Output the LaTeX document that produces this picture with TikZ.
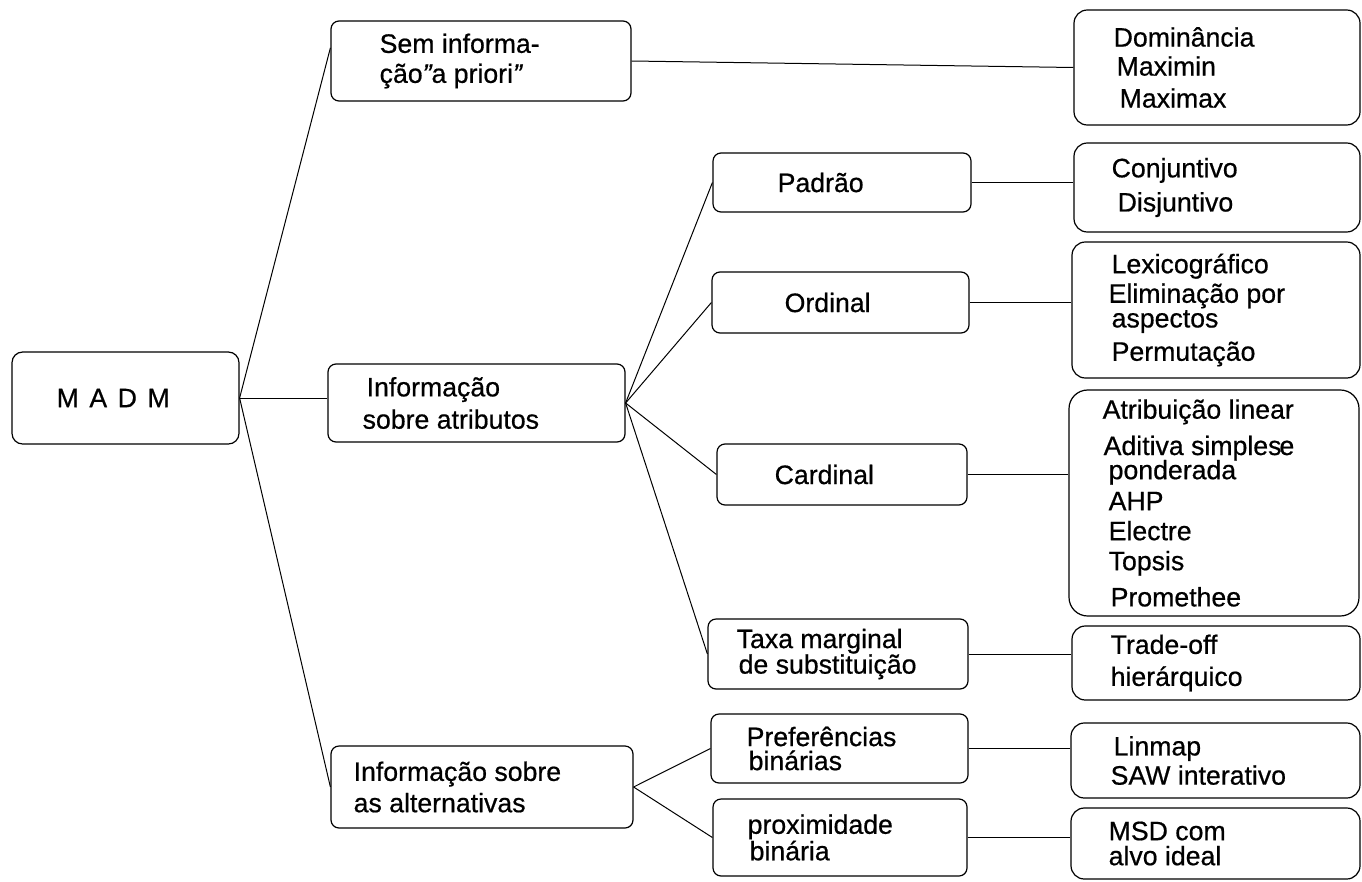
\documentclass[tikz,border=0pt]{standalone}
\usepackage{fontspec}
\setmainfont{Liberation Sans}[FakeBold=0.6]
\newcommand\indt[1]{\hspace*{#1pt}}
\tikzset{
  box/.style={draw, line width=0.9pt, rounded corners=6pt, inner sep=0pt},
  rbox/.style={box, rounded corners=10pt},
  sz/.style 2 args={minimum width=#1*0.75pt, minimum height=#2*0.75pt},
  txt/.style={anchor=west, inner sep=0pt, align=left, font=\fontsize{20}{18}\selectfont},
  link/.style={line width=0.75pt}
}
\begin{document}
\begin{tikzpicture}[x=0.75pt,y=-0.75pt]
\useasboundingbox (0,0) rectangle (1362,881);

% root
\node[box, rounded corners=8pt, sz={227}{92}] (madm) at (125.5,398) {};
% first level
\node[box, sz={300}{80}] (sem)  at (481,61) {};
\node[box, sz={297}{78}] (info) at (476.5,403) {};
\node[box, sz={302}{82}] (alt)  at (482,787) {};
% second level
\node[box, sz={258}{59}] (pad)  at (842,182.5) {};
\node[box, sz={257}{61}] (ord)  at (840.5,302.5) {};
\node[box, sz={250}{61}] (card) at (842,474.5) {};
\node[box, sz={260}{70}] (taxa) at (838,654) {};
\node[box, sz={257}{69}] (pref) at (839.5,748.5) {};
\node[box, sz={254}{77}] (prox) at (840,837.5) {};
% methods
\node[rbox, sz={286}{115}] (dom)   at (1217,67.5) {};
\node[rbox, sz={286}{89}]  (conj)  at (1217,187.5) {};
\node[rbox, sz={288}{136}] (lex)   at (1216,310) {};
\node[rbox, rounded corners=14pt, sz={290}{226}] (atr) at (1214,503) {};
\node[rbox, sz={288}{74}]  (trade) at (1216,663) {};
\node[rbox, sz={289}{75}]  (lin)   at (1215.5,760.5) {};
\node[rbox, sz={289}{71}]  (msd)   at (1215.5,843.5) {};

% labels
\node[txt] (t-madm) at ([xshift=33.75pt]madm.west) {\spaceskip=7.9pt M A D M};
\node[txt] (t-sem) at ([xshift=36.75pt]sem.west) {Sem informa-\\[4.5pt]ção{\itshape"}a priori{\itshape"}};
\node[txt] (t-info) at ([xshift=26.25pt]info.west) {\indt{3}Informação\\[4.5pt]sobre atributos};
\node[txt] (t-alt) at ([xshift=17.25pt]alt.west) {Informação sobre\\[3.75pt]as alternativas};
\node[txt] (t-pad) at ([xshift=48.75pt]pad.west) {Padrão};
\node[txt] (t-ord) at ([xshift=54.75pt]ord.west) {Ordinal};
\node[txt] (t-card) at ([xshift=43.5pt]card.west) {Cardinal};
\node[txt] (t-taxa) at ([xshift=21.75pt]taxa.west) {Taxa marginal\\[-0.5pt]\indt{1.5}de substituição};
\node[txt] (t-pref) at ([xshift=27pt]pref.west) {Preferências\\\indt{1.5}binárias};
\node[txt] (t-prox) at ([xshift=26.25pt]prox.west) {proximidade\\\indt{1.5}binária};
\node[txt] (t-dom) at ([xshift=30pt]dom.west) {Dominância\\[3.75pt]\indt{2.25}Maximin\\[6pt]\indt{4.5}Maximax};
\node[txt] (t-conj) at ([xshift=28.5pt]conj.west) {Conjuntivo\\[6pt]\indt{4.5}Disjuntivo};
\node[txt] (t-lex) at ([xshift=27.75pt]lex.west) {\indt{2.25}Lexicográfico\\[2.5pt]Eliminação por\\[0.5pt]\indt{2.25}aspectos\\[5.5pt]\indt{2.25}Permutação};
\node[txt] (t-atr) at ([xshift=25.5pt]atr.west) {Atribuição linear\\[7.5pt]\indt{0.75}Aditiva simples\kern-1.5pt e\\[-1.5pt]\indt{4.5}ponderada\\[5.25pt]\indt{4.5}AHP\\[4.5pt]\indt{4.5}Electre\\[4.5pt]\indt{4.5}Topsis\\[7.5pt]\indt{6}Promethee};
\node[txt] (t-trade) at ([xshift=29.25pt]trade.west) {Trade-off\\[6pt]hierárquico};
\node[txt] (t-lin) at ([xshift=30pt]lin.west) {\indt{2.25}Linmap\\[2.25pt]SAW interativo};
\node[txt] (t-msd) at ([xshift=28.5pt]msd.west) {MSD com\\[0.75pt]alvo ideal};

% connectors
\draw[link] (madm.east) -- (sem.175);
\draw[link] (madm.east) -- (madm.east -| info.west);
\draw[link] (madm.east) -- (alt.west);
\draw[link] (sem.east) -- (dom.west);
\draw[link] (info.east) -- (pad.west);
\draw[link] (info.east) -- (ord.west);
\draw[link] (info.east) -- (card.west);
\draw[link] (info.east) -- (taxa.west);
\draw[link] (alt.east) -- (pref.west);
\draw[link] (alt.east) -- (prox.west);
\draw[link] (pad.east) -- (pad.east -| conj.west);
\draw[link] (ord.east) -- (ord.east -| lex.west);
\draw[link] (card.east) -- (card.east -| atr.west);
\draw[link] (taxa.east) -- (taxa.east -| trade.west);
\draw[link] (pref.east) -- (pref.east -| lin.west);
\draw[link] (prox.east) -- (prox.east -| msd.west);
\end{tikzpicture}
\end{document}
